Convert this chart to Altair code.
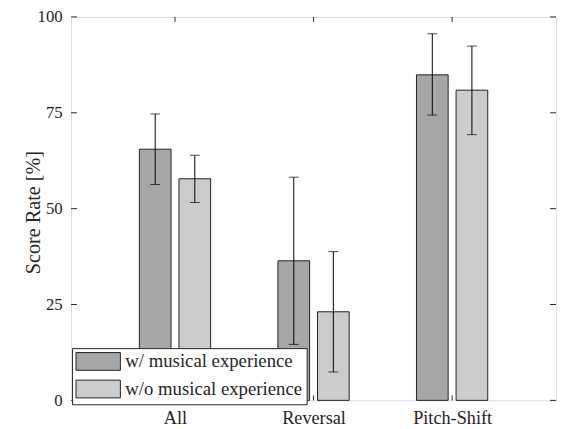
import altair as alt
import pandas as pd

categories = ["All", "Reversal", "Pitch-Shift"]
groups = ["w/ musical experience", "w/o musical experience"]
mean_w = [65.5, 36.4, 84.9]
lo_w = [56.3, 14.6, 74.4]
hi_w = [74.7, 58.2, 95.6]
mean_wo = [57.8, 23.1, 80.9]
lo_wo = [51.6, 7.4, 69.3]
hi_wo = [63.9, 38.8, 92.4]
y_ticks = [0, 25, 50, 75, 100]
x_ticks = [1, 2, 3]
colors = ["#a6a6a6", "#cccccc"]

GROUP_OFF = [-0.1429, 0.1429]
HALF_W = 0.1143

rows = []
for gi, (g, m, lo, hi) in enumerate(zip(groups, [mean_w, mean_wo], [lo_w, lo_wo], [hi_w, hi_wo])):
    for ci, c in enumerate(categories):
        xc = ci + 1 + GROUP_OFF[gi]
        rows.append(dict(cat=c, group=g, xc=xc, x0=xc - HALF_W, x1=xc + HALF_W,
                         mean=m[ci], lo=lo[ci], hi=hi[ci]))
df = pd.DataFrame(rows)

FONT = "Liberation Serif, Times New Roman, serif"
TXT = "#262626"
W, H = 492, 389

xscale = alt.Scale(domain=[0.25, 3.75], nice=False, zero=False)
yscale = alt.Scale(domain=[0, 100], nice=False)

labels_js = "['', " + ", ".join("'" + c + "'" for c in categories) + "][datum.value]"

xaxis = alt.Axis(values=x_ticks, labelExpr=labels_js, grid=False, ticks=False,
                 tickSize=0, domain=False, labelPadding=8, labelFont=FONT,
                 labelFontSize=18.5, labelColor=TXT)
yaxis = alt.Axis(values=y_ticks, grid=False, ticks=False, tickSize=0, domain=False,
                 labelPadding=9, labelFont=FONT, labelFontSize=17, labelColor=TXT,
                 titleFont=FONT, titleFontSize=20.5, titleFontWeight="normal",
                 titleColor=TXT, titleX=-28, titleY=198)
YT = "Score Rate [%]"


def X(f):
    return alt.X(f, scale=xscale, title=None, axis=xaxis)


def Y(f):
    return alt.Y(f, scale=yscale, title=YT, axis=yaxis)


bars = alt.Chart(df).mark_bar(stroke="#222222", strokeWidth=1, opacity=1).encode(
    x=X("x0:Q"),
    x2="x1:Q",
    y=Y("mean:Q"),
    y2=alt.Y2(datum=0),
    color=alt.Color("group:N", scale=alt.Scale(domain=groups, range=colors),
                    legend=alt.Legend(orient="none", legendX=1, legendY=336, title=None,
                                      symbolType="M-2.5,-1H2.5V1H-2.5Z", symbolSize=324,
                                      symbolStrokeColor="#222222", symbolStrokeWidth=1,
                                      symbolOffset=13, labelOffset=18, padding=4,
                                      rowPadding=5, fillColor="white", strokeColor="#262626",
                                      labelFont=FONT, labelFontSize=19, labelColor=TXT,
                                      labelExpr="datum.label + '\u00a0\u00a0'",
                                      labelLimit=400, symbolOpacity=1)),
)

err = alt.Chart(df).mark_rule(color="black", strokeWidth=1).encode(
    x=X("xc:Q"), y=Y("lo:Q"), y2="hi:Q",
)
cap_lo = alt.Chart(df).mark_tick(color="black", orient="horizontal", size=10, thickness=1).encode(
    x=X("xc:Q"), y=Y("lo:Q"),
)
cap_hi = alt.Chart(df).mark_tick(color="black", orient="horizontal", size=10, thickness=1).encode(
    x=X("xc:Q"), y=Y("hi:Q"),
)

ytdf = pd.DataFrame({"v": y_ticks})
xtdf = pd.DataFrame({"v": x_ticks})
tick_l = alt.Chart(ytdf).mark_rule(color=TXT).encode(
    y=Y("v:Q"), x=alt.value(0), x2=alt.value(6))
tick_r = alt.Chart(ytdf).mark_rule(color=TXT).encode(
    y=Y("v:Q"), x=alt.value(W - 6), x2=alt.value(W))
tick_b = alt.Chart(xtdf).mark_rule(color=TXT).encode(
    x=X("v:Q"), y=alt.value(H - 5), y2=alt.value(H))
tick_t = alt.Chart(xtdf).mark_rule(color=TXT).encode(
    x=X("v:Q"), y=alt.value(0), y2=alt.value(5))

chart = alt.layer(bars, err, cap_lo, cap_hi, tick_l, tick_r, tick_b, tick_t).properties(
    width=W, height=H,
    padding={"left": 64, "top": 6, "right": 2, "bottom": 27},
    autosize=alt.AutoSizeParams(type="none"),
).configure_view(stroke=TXT, strokeWidth=1).configure(background="white")

chart.save("out.html", embed_options={"renderer": "svg", "actions": False})
